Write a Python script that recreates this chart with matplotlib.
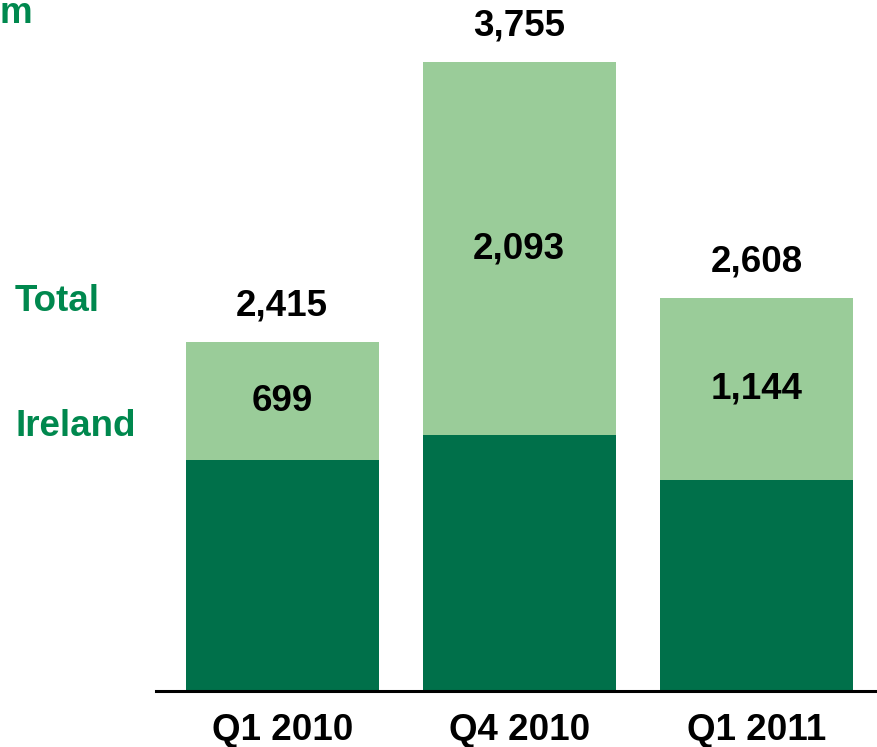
import matplotlib
matplotlib.use('Agg')
import matplotlib.pyplot as plt
import numpy as np

plt.rcParams['font.family'] = ['Liberation Sans', 'DejaVu Sans']

# quarters and the figures printed on the bars (EUR m)
quarters = ['Q1 2010', 'Q4 2010', 'Q1 2011']
total = [2415, 3755, 2608]
ireland = [699, 2093, 1144]

# bar heights as drawn in the slide (not to scale)
drawn_base = [1379, 1528, 1260]
drawn_ireland = [704, 2227, 1086]

DARK = '#00704A'
LIGHT = '#9ACC99'
TXT_GREEN = '#00884E'
FS = 26.5

fig = plt.figure(figsize=(8.78, 7.47), dpi=100)
ax = fig.add_axes([156 / 878, 56 / 747, 722 / 878, 691 / 747])

x = np.arange(len(quarters))
w = 0.814
ax.bar(x, drawn_base, w, color=DARK, zorder=2)
ax.bar(x, drawn_ireland, w, bottom=drawn_base, color=LIGHT, zorder=2)

tops = np.array(drawn_base) + np.array(drawn_ireland)
for i in range(len(quarters)):
    mid = drawn_base[i] + drawn_ireland[i] / 2
    ax.text(x[i], mid, f'{ireland[i]:,}', ha='center', va='center',
            fontsize=FS, fontweight='bold', color='k', zorder=3)
    ax.annotate(f'{total[i]:,}', (x[i], tops[i]), xytext=(0, 26),
                textcoords='offset points', ha='center', va='center',
                fontsize=FS, fontweight='bold', color='k')

ax.set_xlim(-0.532, 2.513)
ax.set_ylim(0, 4125)
ax.set_xticks(x)
ax.set_xticklabels(quarters, fontsize=FS, fontweight='bold')
ax.tick_params(axis='x', length=0, pad=15.5)
ax.set_yticks([])
for s in ['top', 'right', 'left']:
    ax.spines[s].set_visible(False)
ax.spines['bottom'].set_linewidth(2.2)
ax.spines['bottom'].set_color('k')
ax.spines['bottom'].set_zorder(4)

fig.text(15 / 878, 1 - 302 / 747, 'Total', ha='left', va='center',
         fontsize=FS, fontweight='bold', color=TXT_GREEN)
fig.text(15 / 878, 1 - 427 / 747, 'Ireland', ha='left', va='center',
         fontsize=FS, fontweight='bold', color=TXT_GREEN)
# unit label, its left part falls off the slide edge in the original
fig.text(0, 1 - 23 / 747, 'm', ha='left', va='baseline',
         fontsize=FS, fontweight='bold', color=TXT_GREEN)

fig.savefig('out.png', dpi=100)
